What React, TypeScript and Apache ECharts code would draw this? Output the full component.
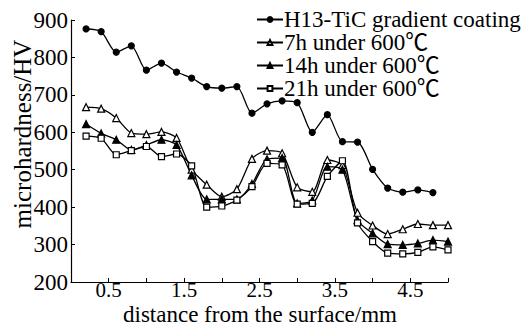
import React, { useEffect, useRef } from "react";
import * as echarts from "echarts";

const seriesNames = [
  "H13-TiC gradient coating",
  "7h under 600℃",
  "14h under 600℃",
  "21h under 600℃",
];

const xCoating = [0.2, 0.4, 0.6, 0.8, 1.0, 1.2, 1.4, 1.6, 1.8, 2.0, 2.2, 2.4, 2.6, 2.8, 3.0, 3.2, 3.4, 3.6, 3.8, 4.0, 4.2, 4.4, 4.6, 4.8];
const yCoating = [876, 869, 814, 831, 766, 785, 761, 745, 722, 718, 722, 651, 676, 684, 679, 600, 647, 575, 574, 501, 451, 440, 446, 439];

const xAged = [0.2, 0.4, 0.6, 0.8, 1.0, 1.2, 1.4, 1.6, 1.8, 2.0, 2.2, 2.4, 2.6, 2.8, 3.0, 3.2, 3.4, 3.6, 3.8, 4.0, 4.2, 4.4, 4.6, 4.8, 5.0];
const y7h = [667, 663, 638, 598, 595, 601, 585, 500, 460, 428, 448, 529, 551, 544, 453, 441, 526, 512, 385, 351, 328, 341, 355, 352, 352];
const y14h = [622, 597, 580, 553, 566, 580, 566, 485, 421, 421, 421, 462, 528, 531, 410, 418, 508, 500, 365, 330, 301, 299, 303, 312, 308];
const y21h = [590, 584, 540, 551, 562, 535, 542, 510, 400, 403, 419, 455, 517, 513, 408, 410, 482, 524, 358, 308, 277, 275, 279, 294, 286];

const xTitle = "distance from the surface/mm";
const yTitle = "microhardness/HV";

const FONT = '"Liberation Serif", "Noto Sans CJK SC", serif';

function pairs(xs: number[], ys: number[]) {
  return xs.map((x, i) => [x, ys[i]]);
}

export default function App() {
  const ref = useRef<HTMLDivElement>(null);
  useEffect(() => {
    if (!ref.current) return;
    const chart = echarts.init(ref.current, null, { renderer: "svg" });
    const base = {
      type: "line",
      smooth: 0.25,
      lineStyle: { color: "#000", width: 1.3 },
      itemStyle: { color: "#000", borderColor: "#000", borderWidth: 1.2 },
      emphasis: { disabled: true },
    };
    chart.setOption({
      animation: false,
      grid: { left: 71, right: 82, top: 20, bottom: 45 },
      legend: {
        orient: "vertical",
        left: 251,
        top: 3,
        itemWidth: 26,
        itemHeight: 6,
        itemGap: 0,
        textStyle: { fontFamily: FONT, fontSize: 23, color: "#000", lineHeight: 22.5, padding: [0, 0, 0, -4] },
        data: seriesNames,
      },
      xAxis: {
        type: "value",
        min: 0,
        max: 5,
        interval: 0.5,
        axisLine: { show: true, lineStyle: { color: "#000", width: 1.2 } },
        axisTick: { show: true, inside: true, length: 4, lineStyle: { color: "#000" } },
        splitLine: { show: false },
        axisLabel: {
          margin: -1,
          fontFamily: FONT,
          fontSize: 21,
          lineHeight: 18,
          color: "#000",
          formatter: (v: number) => (Math.round(v * 2) % 2 === 1 ? v.toFixed(1) : ""),
        },
      },
      yAxis: {
        type: "value",
        min: 200,
        max: 900,
        interval: 100,
        axisLine: { show: true, lineStyle: { color: "#000", width: 1.2 } },
        axisTick: { show: true, inside: true, length: 4, lineStyle: { color: "#000" } },
        splitLine: { show: false },
        axisLabel: { margin: 3, fontFamily: FONT, fontSize: 23, color: "#000" },
      },
      graphic: [
        {
          type: "text",
          x: 22,
          y: 134,
          rotation: Math.PI / 2,
          style: { text: yTitle, fontFamily: FONT, fontSize: 25, fill: "#000", align: "center", verticalAlign: "middle" },
        },
        {
          type: "text",
          x: 260,
          y: 314,
          style: { text: xTitle, fontFamily: FONT, fontSize: 23, lineHeight: 20, fill: "#000", align: "center", verticalAlign: "middle" },
        },
      ],
      series: [
        { ...base, name: seriesNames[0], data: pairs(xCoating, yCoating), symbol: "circle", symbolSize: 6 },
        {
          ...base,
          name: seriesNames[1],
          data: pairs(xAged, y7h),
          symbol: "triangle",
          symbolSize: 7,
          itemStyle: { color: "#fff", borderColor: "#000", borderWidth: 1.2 },
        },
        { ...base, name: seriesNames[2], data: pairs(xAged, y14h), symbol: "triangle", symbolSize: 7 },
        {
          ...base,
          name: seriesNames[3],
          data: pairs(xAged, y21h),
          symbol: "rect",
          symbolSize: 6,
          itemStyle: { color: "#fff", borderColor: "#000", borderWidth: 1.2 },
        },
      ],
    });
    return () => chart.dispose();
  }, []);
  return <div ref={ref} style={{ position: "absolute", left: 0, top: 0, width: 530, height: 327, background: "#fff" }} />;
}
